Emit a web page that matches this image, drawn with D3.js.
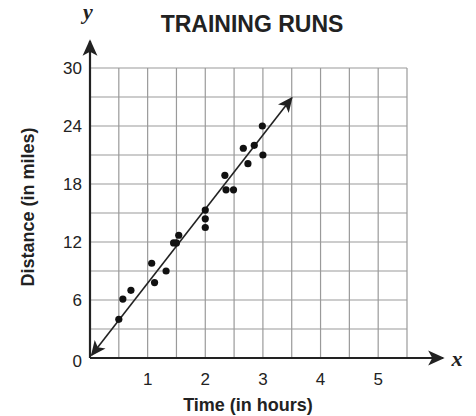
<!DOCTYPE html>
<html>
    <head>
        <title>Training Runs</title>
        <script src="https://d3js.org/d3.v7.min.js"></script>
        <style>
            * {
                margin: 0;
                padding: 0;
            }

            body {
                background-color: #fff;
                overflow: hidden;
            }

            .grid line {
                stroke: #9a9a9a;
                stroke-width: 1.2px;
            }

            .tick-label {
                font-family: 'Liberation Sans', Arial, sans-serif;
                font-size: 17px;
                fill: #222;
            }

            .axis-title {
                font-family: 'Liberation Sans', Arial, sans-serif;
                font-weight: bold;
                font-size: 18px;
                fill: #222;
            }

            .var-label {
                font-family: 'Liberation Serif', 'Times New Roman', serif;
                font-style: italic;
                font-weight: bold;
                font-size: 22px;
                fill: #222;
            }
        </style>
    </head>
    <body>
        <script>
            // hours run vs miles covered
            const hours = [0.5, 0.57, 0.71, 1.07, 1.12, 1.32, 1.45, 1.5, 1.54, 2.0, 2.0, 2.0, 2.36, 2.49, 2.34, 2.66, 2.74, 2.85, 2.99, 3.0];
            const miles = [4.0, 6.1, 7.0, 9.8, 7.8, 9.0, 11.9, 11.9, 12.7, 15.3, 14.4, 13.5, 17.4, 17.4, 18.9, 21.7, 20.1, 22.0, 24.0, 21.0];

            // line of best fit, drawn with arrows on both ends
            const fitX = [0.03, 3.5];
            const fitY = [0.3, 26.9];

            const xTicks = [1, 2, 3, 4, 5];
            const yTicks = [0, 6, 12, 18, 24, 30];

            const width = 476;
            const height = 416;

            const x = d3.scaleLinear().domain([0, 5.5]).range([90, 407]);
            const y = d3.scaleLinear().domain([0, 30]).range([358, 68]);

            const svg = d3.select('body').append('svg').attr('width', width).attr('height', height);

            const defs = svg.append('defs');
            function addArrow(id, size) {
                defs.append('marker')
                    .attr('id', id)
                    .attr('viewBox', '0 0 10 10')
                    .attr('refX', 9)
                    .attr('refY', 5)
                    .attr('markerWidth', size)
                    .attr('markerHeight', size)
                    .attr('markerUnits', 'strokeWidth')
                    .attr('orient', 'auto-start-reverse')
                    .append('path')
                    .attr('d', 'M0,0.5 L10,5 L0,9.5 L2.5,5 Z')
                    .attr('fill', '#222');
            }
            addArrow('arrow', 7.5);
            addArrow('fitarrow', 9.5);

            // grid
            const grid = svg.append('g').attr('class', 'grid');
            grid.selectAll('.vline')
                .data(d3.range(0.5, 5.51, 0.5))
                .enter()
                .append('line')
                .attr('x1', (d) => x(d))
                .attr('x2', (d) => x(d))
                .attr('y1', y(0))
                .attr('y2', y(30));
            grid.selectAll('.hline')
                .data(d3.range(3, 30.1, 3))
                .enter()
                .append('line')
                .attr('x1', x(0))
                .attr('x2', x(5.5))
                .attr('y1', (d) => y(d))
                .attr('y2', (d) => y(d));

            // axes
            svg.append('line')
                .attr('x1', x(0))
                .attr('y1', y(0))
                .attr('x2', 443)
                .attr('y2', y(0))
                .attr('stroke', '#222')
                .attr('stroke-width', 2.2)
                .attr('marker-end', 'url(#arrow)');
            svg.append('line')
                .attr('x1', x(0))
                .attr('y1', y(0))
                .attr('x2', x(0))
                .attr('y2', 41)
                .attr('stroke', '#222')
                .attr('stroke-width', 2.2)
                .attr('marker-end', 'url(#arrow)');

            // tick labels
            svg.selectAll('.xt')
                .data(xTicks)
                .enter()
                .append('text')
                .attr('class', 'tick-label')
                .attr('x', (d) => x(d))
                .attr('y', 385)
                .attr('text-anchor', 'middle')
                .text((d) => d);
            svg.selectAll('.yt')
                .data(yTicks)
                .enter()
                .append('text')
                .attr('class', 'tick-label')
                .attr('x', 82)
                .attr('y', (d) => y(d) + (d === 0 ? 9 : 6))
                .attr('text-anchor', 'end')
                .text((d) => d);

            // fit line
            svg.append('line')
                .attr('x1', x(fitX[0]))
                .attr('y1', y(fitY[0]))
                .attr('x2', x(fitX[1]))
                .attr('y2', y(fitY[1]))
                .attr('stroke', '#222')
                .attr('stroke-width', 1.6)
                .attr('marker-start', 'url(#fitarrow)')
                .attr('marker-end', 'url(#fitarrow)');

            // points
            svg.append('g')
                .selectAll('circle')
                .data(hours.map((h, i) => [h, miles[i]]))
                .enter()
                .append('circle')
                .attr('cx', (d) => x(d[0]))
                .attr('cy', (d) => y(d[1]))
                .attr('r', 3.6)
                .attr('fill', '#111');

            // titles
            svg.append('text')
                .attr('class', 'axis-title')
                .attr('x', 252)
                .attr('y', 32)
                .attr('text-anchor', 'middle')
                .style('font-size', '23px')
                .text('TRAINING RUNS');
            svg.append('text')
                .attr('class', 'axis-title')
                .attr('x', 248)
                .attr('y', 411)
                .attr('text-anchor', 'middle')
                .text('Time (in hours)');
            svg.append('text')
                .attr('class', 'axis-title')
                .attr('transform', 'translate(34,207) rotate(-90)')
                .attr('text-anchor', 'middle')
                .text('Distance (in miles)');

            svg.append('text').attr('class', 'var-label').attr('x', 88).attr('y', 19).attr('text-anchor', 'middle').text('y');
            svg.append('text').attr('class', 'var-label').attr('x', 457).attr('y', 366).attr('text-anchor', 'middle').text('x');
        </script>
    </body>
</html>
